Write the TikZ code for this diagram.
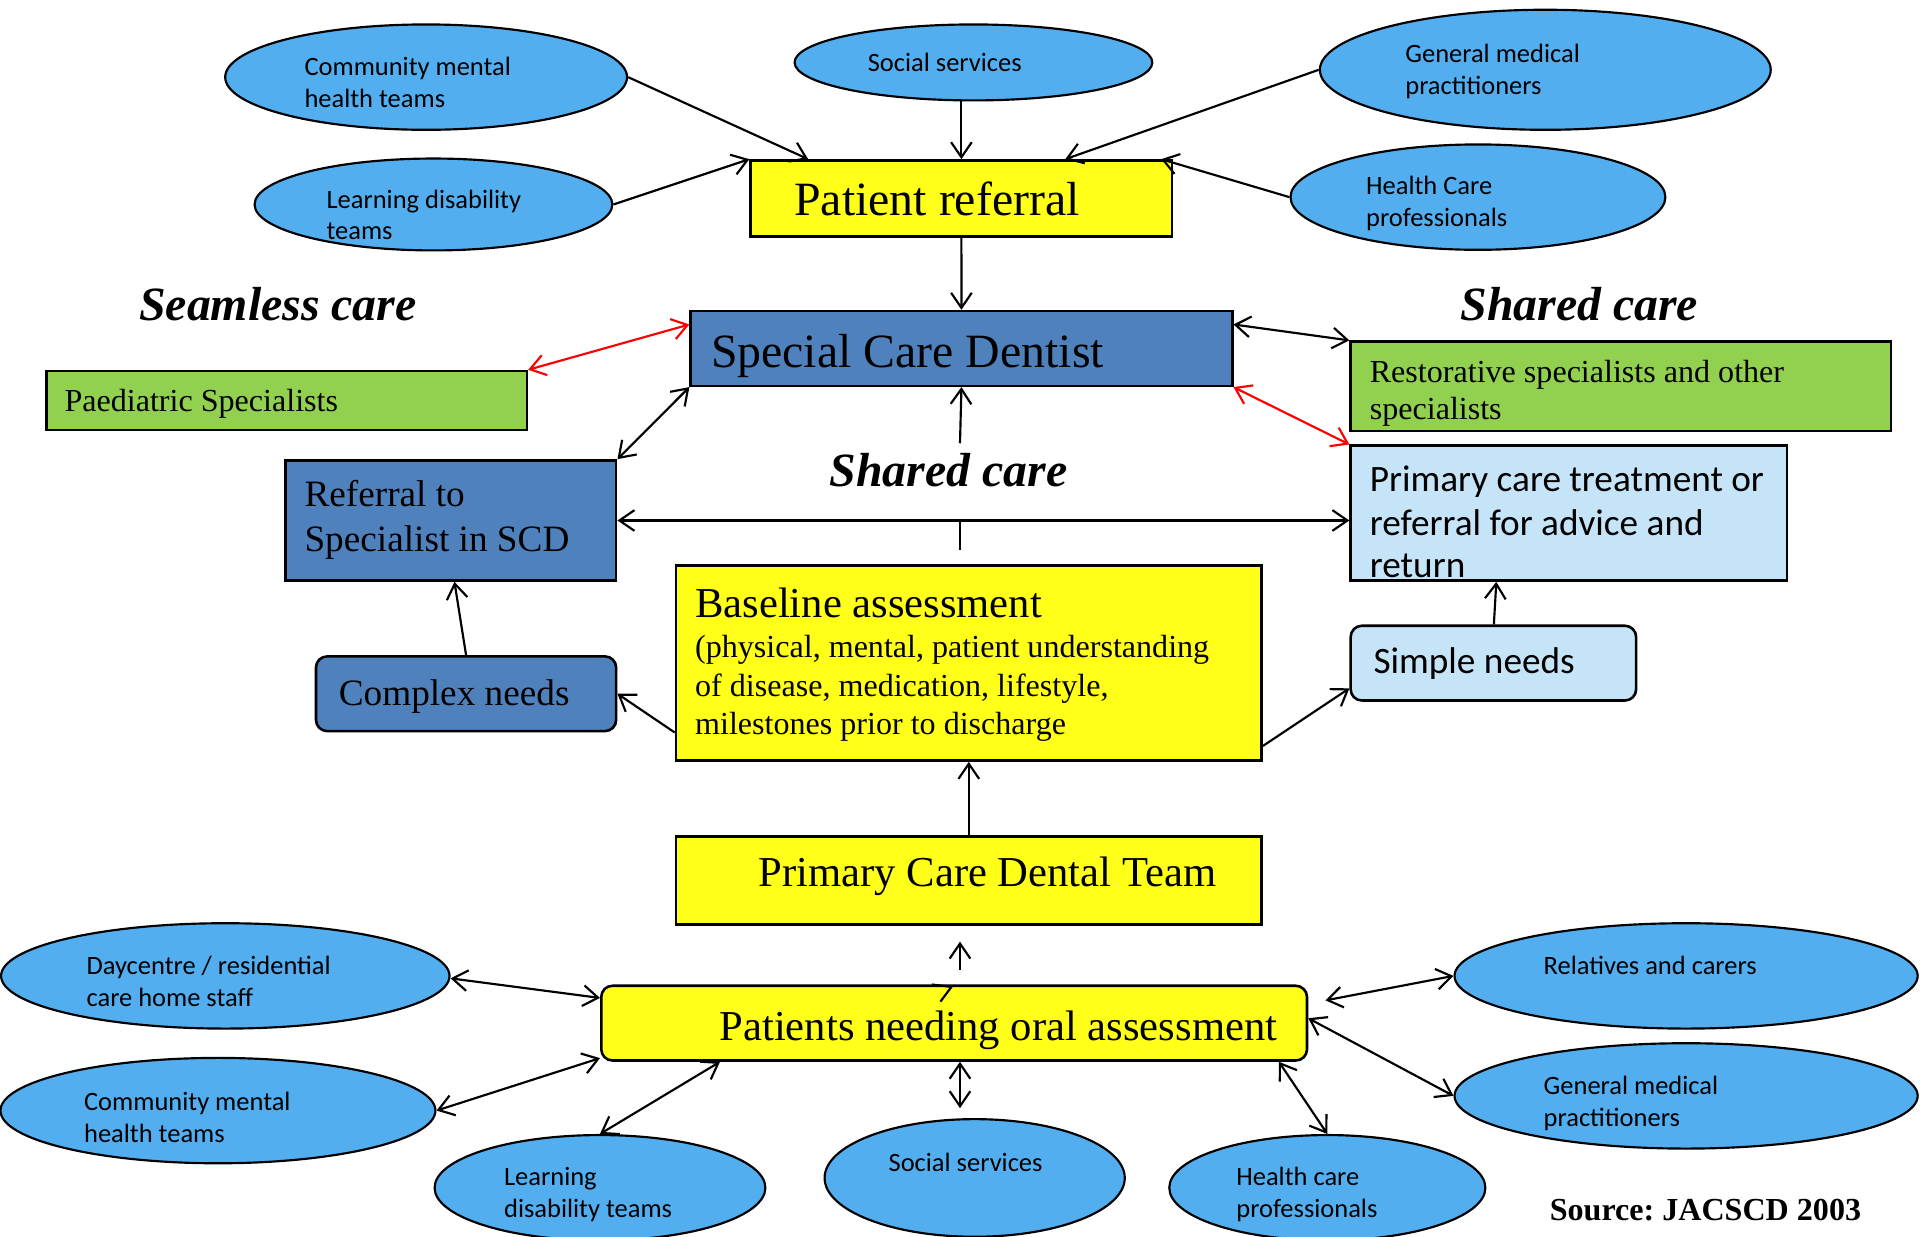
\documentclass[tikz,border=0pt]{standalone}
\usepackage{fontspec}
\setmainfont{Liberation Serif}
\newfontfamily\calfont{Carlito}
\usetikzlibrary{arrows.meta,shapes.geometric,calc}
\frenchspacing

\definecolor{ovalblue}{RGB}{83,174,240}
\definecolor{boxyellow}{RGB}{255,255,25}
\definecolor{boxgreen}{RGB}{146,208,80}
\definecolor{boxblue}{RGB}{79,129,189}
\definecolor{boxpale}{RGB}{198,228,248}

\begin{document}
\begin{tikzpicture}[x=0.01cm,y=-0.01cm,
  oval/.style={ellipse,draw=black,line width=0.5pt,fill=ovalblue,inner sep=0pt},
  box/.style={rectangle,draw=black,line width=0.6pt,inner sep=0pt,anchor=north west},
  rbox/.style={box,rounded corners=2.6pt},
  tip/.tip={Straight Barb[length=3.5pt,width=4.8pt]},
  link/.style={line width=0.5pt,-tip},
  both/.style={line width=0.5pt,tip-tip},
  txt/.style={anchor=base west,inner sep=0pt},
  tbig/.style={txt,font=\fontsize{11.1}{13}\selectfont},
  tbi/.style={txt,font=\fontsize{11.1}{13}\selectfont\bfseries\itshape},
  tmed/.style={txt,font=\fontsize{9.9}{12}\selectfont},
  tsm/.style={txt,font=\fontsize{8.65}{10}\selectfont},
  txs/.style={txt,font=\fontsize{7.45}{9}\selectfont},
  cmed/.style={txt,font=\calfont\fontsize{8.65}{10}\selectfont},
  csm/.style={txt,font=\calfont\fontsize{6.15}{7.4}\selectfont}]

\useasboundingbox[fill=white] (0,0) rectangle (1568,1010);

% ---------- referral sources (top) ----------
\node[oval,minimum width=3.28cm,minimum height=0.86cm] (e1) at (348,63) {};
\node[csm] (e1a) at (248,62) {Community mental};
\node[csm] (e1b) at (248,88) {health teams};

\node[oval,minimum width=2.92cm,minimum height=0.62cm] (e2) at (795,51) {};
\node[csm] (e2a) at (708,58) {Social services};

\node[oval,minimum width=3.68cm,minimum height=0.98cm] (e3) at (1262,57) {};
\node[csm] (e3a) at (1147,51) {General medical};
\node[csm] (e3b) at (1147,77) {practitioners};

\node[oval,minimum width=2.92cm,minimum height=0.75cm] (e4) at (354,167) {};
\node[csm] (e4a) at (266,170) {Learning disability};
\node[csm] (e4b) at (266,196) {teams};

\node[oval,minimum width=3.06cm,minimum height=0.86cm] (e5) at (1207,161) {};
\node[csm] (e5a) at (1115,159) {Health Care};
\node[csm] (e5b) at (1115,185) {professionals};

% ---------- central boxes ----------
\node[box,fill=boxyellow,minimum width=3.44cm,minimum height=0.62cm] (pr) at (612,130) {};
\node[tbig] (prt) at (648,176) {Patient referral};

\node[box,fill=boxblue,minimum width=4.42cm,minimum height=0.61cm] (scd) at (563,253) {};
\node[tbig] (scdt) at (580,300) {Special Care Dentist};

\node[box,fill=boxgreen,minimum width=3.92cm,minimum height=0.48cm] (ps) at (37,302) {};
\node[txs] (pst) at (52,336) {Paediatric Specialists};

\node[box,fill=boxgreen,minimum width=4.41cm,minimum height=0.73cm] (rs) at (1102,278) {};
\node[txs] (rsa) at (1118,312) {Restorative specialists and other};
\node[txs] (rsb) at (1118,343) {specialists};

\node[box,fill=boxpale,minimum width=3.56cm,minimum height=1.10cm] (pct) at (1102,363) {};
\node[cmed] (pcta) at (1118,401) {Primary care treatment or};
\node[cmed] (pctb) at (1118,437) {referral for advice and};
\node[cmed] (pctc) at (1118,472) {return};

\node[box,fill=boxblue,minimum width=2.70cm,minimum height=0.98cm] (rsc) at (232,375) {};
\node[tsm] (rsca) at (248,414) {Referral to};
\node[tsm] (rscb) at (248,450) {Specialist in SCD};

\node[rbox,fill=boxblue,minimum width=2.45cm,minimum height=0.61cm] (cn) at (257,535) {};
\node[tsm] (cnt) at (276,576) {Complex needs};

\node[box,fill=boxyellow,minimum width=4.78cm,minimum height=1.59cm] (ba) at (551,461) {};
\node[tmed] (baa) at (567,504) {Baseline assessment};
\node[txs] (bab) at (567,537) {(physical, mental, patient understanding};
\node[txs] (bac) at (567,569) {of disease, medication, lifestyle,};
\node[txs] (bad) at (567,600) {milestones prior to discharge};

\node[rbox,fill=boxpale,minimum width=2.33cm,minimum height=0.61cm] (sn) at (1102,510) {};
\node[cmed] (snt) at (1121,550) {Simple needs};

\node[box,fill=boxyellow,minimum width=4.78cm,minimum height=0.72cm] (pcdt) at (551,682) {};
\node[tmed] (pcdtt) at (619,724) {Primary Care Dental Team};

\node[rbox,fill=boxyellow,minimum width=5.76cm,minimum height=0.61cm] (pnoa) at (490,804) {};
\node[tmed] (pnoat) at (587,850) {Patients needing oral assessment};

% ---------- headings ----------
\node[tbi] (seam) at (113,262) {Seamless care};
\node[tbi] (shr) at (1192,262) {Shared care};
\node[tbi] (shc) at (677,397) {Shared care};

% ---------- contacts (bottom) ----------
\node[oval,minimum width=3.66cm,minimum height=0.86cm] (b1) at (184,797) {};
\node[csm] (b1a) at (70,796) {Daycentre / residential};
\node[csm] (b1b) at (70,822) {care home staff};

\node[oval,minimum width=3.55cm,minimum height=0.86cm] (b2) at (178,907) {};
\node[csm] (b2a) at (68,907) {Community mental};
\node[csm] (b2b) at (68,933) {health teams};

\node[oval,minimum width=2.70cm,minimum height=0.86cm] (b3) at (490,970) {};
\node[csm] (b3a) at (411,968) {Learning};
\node[csm] (b3b) at (411,994) {disability teams};

\node[oval,minimum width=2.45cm,minimum height=0.96cm] (b4) at (796,962) {};
\node[csm] (b4a) at (725,957) {Social services};

\node[oval,minimum width=2.58cm,minimum height=0.86cm] (b5) at (1084,970) {};
\node[csm] (b5a) at (1009,968) {Health care};
\node[csm] (b5b) at (1009,994) {professionals};

\node[oval,minimum width=3.78cm,minimum height=0.86cm] (b6) at (1377,797) {};
\node[csm] (b6a) at (1260,796) {Relatives and carers};

\node[oval,minimum width=3.78cm,minimum height=0.86cm] (b7) at (1377,895) {};
\node[csm] (b7a) at (1260,894) {General medical};
\node[csm] (b7b) at (1260,920) {practitioners};

\node[txt,font=\fontsize{7.45}{9}\selectfont\bfseries] (src) at (1265,997) {Source: JACSCD 2003};

% ---------- free ends ----------
\coordinate (scup) at (784,362);
\coordinate (stubend) at (784,449);
\coordinate (upfrom) at (784,792);
\coordinate (upto) at (784,769);
\coordinate (ssdown) at (784,905);

% ---------- connectors: referral ----------
\draw[link] (e1.east) -- ($(pr.north west)+(48,0)$);
\draw[link] (e2.south -| pr.north) -- (pr.north);
\draw[link] (e3.west) -- ($(pr.north west)+(258,0)$);
\draw[link] (e4.east) -- (pr.north west);
\draw[link] (e5.west) -- ($(pr.north east)+(-10,0)$);
\draw[link] (pr.south) -- (scd.north);

% ---------- connectors: specialist links ----------
\draw[both,red] (ps.north east) -- ($(scd.north west)+(0,12)$);
\draw[both] ($(scd.north east)+(0,12)$) -- (rs.north west);
\draw[both,red] (scd.south east) -- (pct.north west);
\draw[both] (scd.south west) -- (rsc.north east);
\draw[link] (scup) -- (scd.south);
\draw[both] (rsc.east) -- (rsc.east -| pct.west);
\draw[line width=0.5pt] (stubend |- rsc.east) -- (stubend);

% ---------- connectors: assessment ----------
\draw[link] (cn.north) -- ($(rsc.south)+(3,0)$);
\draw[link] ($(ba.south west)+(0,-24)$) -- (cn.east);
\draw[link] ($(ba.south east)+(0,-13)$) -- ($(sn.south west)+(0,-11)$);
\draw[link] ($(sn.north west)+(118,0)$) -- ($(pct.south west)+(120,0)$);
\draw[link] (pcdt.north) -- (ba.south);
\draw[link] (upfrom) -- (upto);
\draw[line width=0.5pt] ($(pnoa.north west)+(271,0)$) -- ($(pnoa.north west)+(287,2)$) -- ($(pnoa.north west)+(278,14)$);

% ---------- connectors: contacts ----------
\draw[both] (ssdown |- pnoa.south) -- (ssdown);
\draw[both] ($(b1.east)+(0,2)$) -- ($(pnoa.north west)+(0,11)$);
\draw[both] (b2.east) -- ($(pnoa.south west)+(0,-3)$);
\draw[both] (b3.north) -- ($(pnoa.south west)+(98,0)$);
\draw[both] (b5.north) -- ($(pnoa.south east)+(-24,0)$);
\draw[both] (b6.west) -- ($(pnoa.north east)+(14,13)$);
\draw[both] (b7.west) -- ($(pnoa.east)+(0,-4)$);
\end{tikzpicture}
\end{document}
